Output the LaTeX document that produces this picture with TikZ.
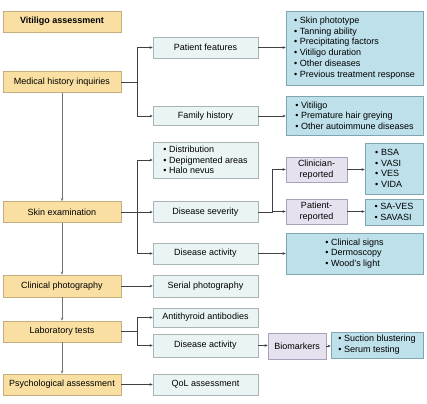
\documentclass[tikz,border=0pt]{standalone}
\usepackage{xcolor}
\usepackage{fontspec}
\setmainfont{Liberation Sans}
\usepackage{tikz}
\usetikzlibrary{arrows.meta}

\definecolor{mainfill}{HTML}{F9E0A2}
\definecolor{mainline}{HTML}{C4AE7E}
\definecolor{subfill}{HTML}{EAF4F4}
\definecolor{subline}{HTML}{A9B5B5}
\definecolor{listfill}{HTML}{BDE0EA}
\definecolor{listline}{HTML}{7FA5B1}
\definecolor{repfill}{HTML}{E5E1EE}
\definecolor{repline}{HTML}{A8A3B8}

\begin{document}
\begin{tikzpicture}[
  x=1pt, y=-1pt,
  font=\fontsize{9}{10.7}\selectfont,
  box/.style={rectangle, draw, line width=0.6pt, align=center, inner sep=2pt},
  mainbox/.style={box, draw=mainline, fill=mainfill, minimum width=118pt, minimum height=21pt},
  subbox/.style={box, draw=subline, fill=subfill, minimum width=105pt, minimum height=21pt},
  listbox/.style={box, draw=listline, fill=listfill, align=left},
  repbox/.style={box, draw=repline, fill=repfill, minimum width=61pt, minimum height=25pt},
  arrow/.style={-{Stealth[length=3pt,width=2.6pt]}, line width=0.6pt, color=black!75},
  mainarrow/.style={arrow, line width=0.9pt, color=black!55}
]
\useasboundingbox (0,0) rectangle (427,403);

% left column
\node[mainbox] (title) at (62,21.5) {\textbf{Vitiligo assessment}};
\node[mainbox] (med) at (62,82) {Medical history inquiries};
\node[mainbox] (skin) at (62,212) {Skin examination};
\node[mainbox, minimum height=22pt] (photo) at (62,286) {Clinical photography};
\node[mainbox] (lab) at (62,331.5) {Laboratory tests};
\node[mainbox] (psych) at (62,384.5) {Psychological assessment};

% middle column
\node[subbox] (pfeat) at (205.5,47.5) {Patient features};
\node[subbox, minimum height=19pt] (family) at (205.5,116) {Family history};
\node[subbox, align=left, minimum height=36pt] (distrib) at (205.5,160) {%
  \textbullet\ Distribution\\
  \textbullet\ Depigmented areas\\
  \textbullet\ Halo nevus};
\node[subbox] (severity) at (205.5,212) {Disease severity};
\node[subbox] (activity) at (205.5,253.5) {Disease activity};
\node[subbox, minimum height=22pt] (serial) at (205.5,286) {Serial photography};
\node[subbox, minimum height=19pt] (antithyroid) at (205.5,317.5) {Antithyroid antibodies};
\node[subbox, minimum height=23pt] (labact) at (205.5,345.5) {Disease activity};
\node[subbox] (qol) at (205.5,384.5) {QoL assessment};

% right column
\node[listbox, minimum width=137pt, minimum height=74pt] (pflist) at (354.5,48) {%
  \textbullet\ Skin phototype\\
  \textbullet\ Tanning ability\\
  \textbullet\ Precipitating factors\\
  \textbullet\ Vitiligo duration\\
  \textbullet\ Other diseases\\
  \textbullet\ Previous treatment response};
\node[listbox, minimum width=137pt, minimum height=39pt] (famlist) at (354.5,115.5) {%
  \textbullet\ Vitiligo\\
  \textbullet\ Premature hair greying\\
  \textbullet\ Other autoimmune diseases};
\node[repbox] (clinician) at (316.5,169.5) {Clinician-\\reported};
\node[repbox] (patient) at (316.5,211.5) {Patient-\\reported};
\node[listbox, text width=38pt, inner xsep=10pt, minimum height=51pt] (bsa) at (394,168.5) {%
  \textbullet\ BSA\\
  \textbullet\ VASI\\
  \textbullet\ VES\\
  \textbullet\ VIDA};
\node[listbox, minimum width=58pt, minimum height=26pt] (saves) at (394,212) {%
  \textbullet\ SA-VES\\
  \textbullet\ SAVASI};
\node[listbox, minimum width=137pt, minimum height=41pt] (signs) at (354.5,253.5) {%
  \textbullet\ Clinical signs\\
  \textbullet\ Dermoscopy\\
  \textbullet\ Wood's light};
\node[repbox, minimum width=58pt, minimum height=26pt] (biomarkers) at (297,346) {Biomarkers};
\node[listbox, minimum width=92pt, minimum height=26pt] (suction) at (377,345) {%
  \textbullet\ Suction blustering\\
  \textbullet\ Serum testing};

% main chain
\draw[mainarrow] (med.south) -- (skin.north);
\draw[mainarrow] (skin.south) -- (photo.north);
\draw[mainarrow] (photo.south) -- (lab.north);
\draw[mainarrow] (lab.south) -- (psych.north);

% branches
\draw[arrow] (med.east) -- ++(16,0) |- (pfeat.west);
\draw[arrow] (med.east) -- ++(16,0) |- (family.west);
\draw[arrow] (skin.east) -- ++(16,0) |- (distrib.west);
\draw[arrow] (skin.east) -- (severity.west);
\draw[arrow] (skin.east) -- ++(16,0) |- (activity.west);
\draw[arrow] (severity.east) -- ++(14,0) |- (clinician.west);
\draw[arrow] (severity.east) -- ++(14,0) |- (patient.west);
\draw[arrow] (lab.east) -- ++(16,0) |- (antithyroid.west);
\draw[arrow] (lab.east) -- ++(16,0) |- (labact.west);
\draw[arrow] (photo.east) -- (serial.west);
\draw[arrow] (psych.east) -- (qol.west);

% to the lists
\draw[arrow] (pfeat.east) -- (pfeat.east -| pflist.west);
\draw[arrow] (family.east) -- (family.east -| famlist.west);
\draw[arrow] (clinician.east) -- (clinician.east -| bsa.west);
\draw[arrow] (patient.east) -- (patient.east -| saves.west);
\draw[arrow] (activity.east) -- (signs.west);
\draw[arrow] (labact.east) -- (labact.east -| biomarkers.west);
\draw[arrow] (biomarkers.east) -- (biomarkers.east -| suction.west);

\end{tikzpicture}
\end{document}
